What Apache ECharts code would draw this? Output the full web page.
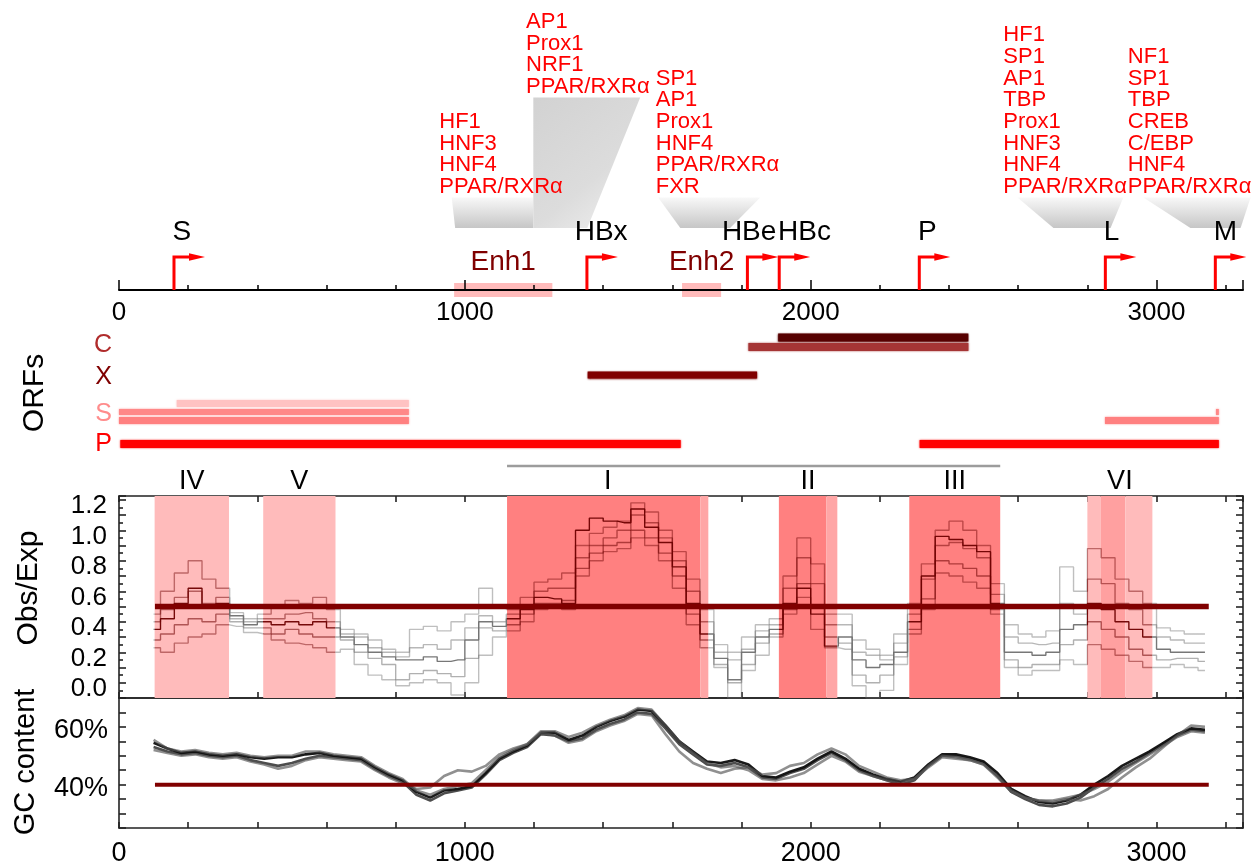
<!DOCTYPE html>
<html><head><meta charset="utf-8">
<script src="https://cdn.jsdelivr.net/npm/echarts@6/dist/echarts.min.js"></script>
<style>html,body{margin:0;padding:0;background:#fff}#c{width:1253px;height:863px}</style>
</head><body><div id="c"></div>
<script>
// ---------------- data ----------------
const positions = [100,140,180,220,260,300,340,380,420,460,
  500,540,580,620,660,700,740,780,820,860,
  900,940,980,1020,1060,1100,1140,1180,1220,1260,
  1300,1340,1380,1420,1460,1500,1540,1580,1620,1660,
  1700,1740,1780,1820,1860,1900,1940,1980,2020,2060,
  2100,2140,2180,2220,2260,2300,2340,2380,2420,2460,
  2500,2540,2580,2620,2660,2700,2740,2780,2820,2860,
  2900,2940,2980,3020,3060,3100,3140];

const obsTrace1 = [0.55,0.70,0.82,0.90,0.78,0.72,0.56,0.52,0.55,0.60,
  0.64,0.62,0.66,0.58,0.45,0.42,0.38,0.32,0.30,0.45,
  0.47,0.44,0.50,0.55,0.72,0.60,0.58,0.66,0.76,0.78,
  0.82,1.00,1.08,1.12,1.16,1.28,1.22,1.10,0.96,0.78,
  0.58,0.35,0.30,0.40,0.48,0.52,0.80,1.05,0.88,0.55,
  0.55,0.38,0.32,0.28,0.42,0.62,0.88,1.10,1.16,1.10,
  1.00,0.75,0.48,0.42,0.40,0.44,0.86,0.70,0.98,0.92,
  0.78,0.70,0.62,0.46,0.44,0.42,0.42];
const obsTrace2 = [0.50,0.58,0.66,0.70,0.62,0.66,0.52,0.50,0.52,0.52,
  0.55,0.56,0.52,0.50,0.42,0.40,0.33,0.30,0.27,0.33,
  0.35,0.32,0.38,0.46,0.54,0.50,0.55,0.60,0.70,0.72,
  0.72,0.92,1.00,1.05,1.10,1.20,1.15,1.05,0.90,0.70,
  0.50,0.30,0.25,0.32,0.44,0.48,0.72,0.92,0.75,0.48,
  0.48,0.30,0.28,0.25,0.36,0.55,0.78,1.00,1.02,0.98,
  0.92,0.68,0.40,0.36,0.35,0.36,0.62,0.55,0.78,0.75,
  0.62,0.58,0.48,0.40,0.38,0.36,0.36];
const obsTrace3 = [0.45,0.52,0.62,0.72,0.60,0.62,0.54,0.48,0.50,0.48,
  0.50,0.48,0.50,0.46,0.40,0.35,0.30,0.27,0.25,0.25,
  0.27,0.24,0.25,0.38,0.50,0.47,0.52,0.58,0.66,0.65,
  0.62,1.10,1.18,1.16,1.15,1.24,1.12,1.02,0.86,0.62,
  0.42,0.26,0.12,0.30,0.40,0.45,0.62,0.72,0.55,0.34,
  0.40,0.25,0.20,0.22,0.30,0.50,0.80,1.06,1.04,1.00,
  0.96,0.62,0.30,0.30,0.28,0.30,0.45,0.48,0.62,0.58,
  0.50,0.45,0.40,0.32,0.30,0.30,0.30];
const obsTrace4 = [0.38,0.42,0.48,0.52,0.50,0.55,0.50,0.46,0.46,0.42,
  0.45,0.42,0.40,0.40,0.38,0.30,0.26,0.22,0.12,0.16,
  0.18,0.16,0.14,0.26,0.46,0.44,0.48,0.55,0.62,0.62,
  0.64,0.85,0.95,1.00,1.02,1.10,1.05,0.95,0.80,0.55,
  0.38,0.22,0.10,0.22,0.36,0.42,0.58,0.75,0.60,0.40,
  0.36,0.15,0.10,0.15,0.27,0.45,0.65,0.90,0.88,0.85,
  0.80,0.58,0.25,0.20,0.22,0.22,0.35,0.38,0.50,0.45,
  0.40,0.32,0.28,0.25,0.26,0.26,0.24];
const obsTrace5 = [0.33,0.30,0.36,0.40,0.42,0.48,0.47,0.43,0.42,0.38,
  0.36,0.35,0.33,0.30,0.32,0.22,0.15,0.12,0.08,0.10,
  0.12,0.10,0.02,0.10,0.28,0.40,0.44,0.50,0.58,0.60,
  0.58,0.80,0.90,0.96,0.98,1.05,1.00,0.90,0.72,0.48,
  0.33,0.20,0.00,0.18,0.28,0.40,0.55,0.66,0.45,0.33,
  0.32,0.08,0.00,0.05,0.22,0.42,0.58,0.82,0.80,0.76,
  0.72,0.55,0.20,0.15,0.18,0.18,0.25,0.22,0.35,0.32,
  0.28,0.24,0.20,0.20,0.22,0.20,0.18];

const gcTrace1 = [54.5,52.5,51.0,51.5,50.5,50.0,50.5,49.5,49.0,49.5,
  49.5,50.5,51.0,50.0,49.5,49.0,46.0,43.5,41.5,37.5,
  35.5,38.0,38.5,39.5,44.0,49.0,51.5,53.5,58.0,58.0,
  55.5,57.0,60.0,62.0,63.5,66.0,65.5,60.5,55.0,51.5,
  48.0,47.5,48.5,47.0,43.0,42.5,44.5,46.0,49.0,51.5,
  49.0,45.5,43.5,42.0,41.0,42.5,47.0,50.5,50.5,49.5,
  48.0,44.0,38.5,36.0,34.0,33.5,34.5,36.5,40.0,43.0,
  46.5,49.0,51.5,54.5,57.5,59.5,59.0];
const gcTrace2 = [53.0,51.5,50.5,51.0,50.0,49.5,50.0,48.5,47.5,46.5,
  47.5,49.0,50.0,49.5,49.0,48.5,45.5,43.0,41.0,36.5,
  34.5,37.0,38.0,39.0,43.5,48.5,51.0,53.0,57.5,57.0,
  55.0,56.0,59.0,61.0,62.5,65.0,64.5,59.5,54.0,50.5,
  47.0,46.5,47.5,46.0,42.5,42.0,44.0,45.5,48.5,51.0,
  48.5,45.0,43.0,41.5,40.0,41.5,46.5,50.0,50.0,49.0,
  47.5,43.0,37.5,35.0,33.0,32.5,33.5,35.5,39.0,42.0,
  45.5,48.0,51.0,54.0,57.0,59.0,58.5];
const gcTrace3 = [52.0,51.0,50.0,50.5,49.5,49.0,49.5,48.0,47.0,45.5,
  46.5,48.5,49.5,49.0,48.5,48.0,45.0,42.5,40.5,38.5,
  39.0,43.0,45.0,44.5,46.5,50.5,52.5,54.0,58.0,57.0,
  54.5,55.5,58.5,60.5,62.0,64.5,64.0,57.5,51.5,47.5,
  45.5,44.0,45.5,46.0,43.5,44.0,46.5,47.5,50.5,52.5,
  50.5,46.5,44.5,42.5,41.5,42.0,46.0,49.5,49.0,48.5,
  47.0,42.5,37.5,35.5,34.5,34.5,35.5,36.5,38.5,41.0,
  44.5,47.5,50.5,53.5,56.5,58.5,58.0];
const gcTrace4 = [55.5,52.5,51.5,52.0,51.0,50.5,51.0,50.0,49.5,50.0,
  50.0,51.5,51.5,50.5,50.0,49.5,46.5,44.0,42.0,38.0,
  36.5,38.5,39.5,40.5,45.0,49.5,52.0,54.0,58.5,58.5,
  56.5,58.0,60.5,62.5,64.0,66.5,66.0,60.5,55.0,51.0,
  47.5,46.0,46.5,45.0,42.0,41.5,42.5,44.0,47.0,50.0,
  48.0,44.5,43.0,41.5,40.5,42.0,46.5,50.0,49.5,48.5,
  47.0,43.0,38.0,35.5,34.5,34.0,35.0,34.5,36.0,38.5,
  42.5,46.0,49.0,53.0,57.0,60.5,60.0];

const promoters = [
  {name:'S', pos:159, labelAt:182},
  {name:'HBx', pos:1353, labelAt:1394},
  {name:'HBe', pos:1817, labelAt:1822},
  {name:'HBc', pos:1909, labelAt:1982},
  {name:'P', pos:2314, labelAt:2337},
  {name:'L', pos:2852, labelAt:2870},
  {name:'M', pos:3170, labelAt:3199}
];
const enhancers = [
  {name:'Enh1', from:969, to:1253},
  {name:'Enh2', from:1628, to:1741}
];
const tfGroups = [
  {names:['HF1','HNF3','HNF4','PPAR/RXRα'], textAt:926, tier:'low', top:[962,1198], bottom:[972,1198]},
  {names:['AP1','Prox1','NRF1','PPAR/RXRα'], textAt:1177, tier:'high', top:[1198,1507], bottom:[1198,1354]},
  {names:['SP1','AP1','Prox1','HNF4','PPAR/RXRα','FXR'], textAt:1552, tier:'low', top:[1559,1854], bottom:[1623,1767]},
  {names:['HF1','SP1','AP1','TBP','Prox1','HNF3','HNF4','PPAR/RXRα'], textAt:2557, tier:'low', top:[2598,2904], bottom:[2702,2867]},
  {names:['NF1','SP1','TBP','CREB','C/EBP','HNF4','PPAR/RXRα'], textAt:2917, tier:'low', top:[2962,3272], bottom:[3098,3243]}
];
const orfRows = ['C','X','S','P'];
const orfs = [
  {lane:'core', from:1906, to:2456},
  {lane:'precore', from:1820, to:2456},
  {lane:'X', from:1355, to:1845},
  {lane:'Ssmall', from:167, to:838},
  {lane:'Smid', from:0, to:838},
  {lane:'Smid', from:3172, to:3180},
  {lane:'Slarge', from:0, to:838},
  {lane:'Slarge', from:2851, to:3180},
  {lane:'P', from:4, to:1624},
  {lane:'P', from:2315, to:3180}
];
const regions = [
  {name:'IV', from:103, to:318},
  {name:'V', from:417, to:626},
  {name:'I', from:1122, to:1704},
  {name:'II', from:1908, to:2077},
  {name:'III', from:2285, to:2548},
  {name:'VI', from:2800, to:2988}
];
const shading = [
  {from:103, to:318, tone:'light'},
  {from:417, to:626, tone:'light'},
  {from:1122, to:1681, tone:'dark'},
  {from:1681, to:1704, tone:'strip'},
  {from:1908, to:2045, tone:'dark'},
  {from:2045, to:2077, tone:'strip'},
  {from:2285, to:2548, tone:'dark'},
  {from:2800, to:2838, tone:'light'},
  {from:2838, to:2910, tone:'mid'},
  {from:2910, to:2988, tone:'light'}
];
const bracket = [{from:1122, to:2548}];
const obsThreshold = 0.6;
const gcThreshold = 40;
const windowStart = 104, windowEnd = 3151;
const xTickLabels = ['0','1000','2000','3000'];
const obsTickLabels = ['0.0','0.2','0.4','0.6','0.8','1.0','1.2'];
const gcTickLabels = ['40%','60%'];

// ---------------- styles / layout ----------------
const FONT = '"Liberation Sans", Arial, Helvetica, sans-serif';
const AXIS_MAX = 3250, OBS_MAX = 1.325;
const GL = 119, GW = 1124;
const frame = {color:'#222', width:1.6};
const TF_TIER = {low:103, high:203};
const TF_LINE = 21.7;
const FUNNEL_BOTTOM = 62;
const FUNNEL_FILL = {
  low: {type:'linear',x:0,y:0,x2:0,y2:1,colorStops:[{offset:0,color:'#f8f8f8'},{offset:1,color:'#c6c6c6'}]},
  high:{type:'linear',x:0,y:0,x2:1,y2:1,colorStops:[{offset:0,color:'#d2d2d2'},{offset:0.6,color:'#dcdcdc'},{offset:1,color:'#f2f2f2'}]}
};
const ORF_LANES = {
  core:{dy:19.5,h:8,color:'#560000'},
  precore:{dy:29,h:8,color:'#A53535'},
  X:{dy:57,h:7,color:'#800000'},
  Ssmall:{dy:85.5,h:7,color:'#FFC2C2'},
  Smid:{dy:94,h:6,color:'#FF8888'},
  Slarge:{dy:102.5,h:7,color:'#FF8080'},
  P:{dy:126,h:8,color:'#FF0000'}
};
const ORF_ROW_STYLE = {C:{dy:27,color:'#B02C2C'}, X:{dy:59,color:'#800000'}, S:{dy:96,color:'#FF8C8C'}, P:{dy:126,color:'#FF0000'}};
const TONES = {light:'#FFBBBB', strip:'#FFA6A6', dark:'#FF8080', mid:'#FFA0A0'};

function T(text, x, y, size, color, align, valign){
  return {type:'text', style:{text:text, x:x, y:y, fill:color, fontSize:size, fontFamily:FONT,
    align:align||'center', verticalAlign:valign||'middle'}};
}
function fmtFrom(list, f){ return function(v){ const s=f(v); return list.indexOf(s)>=0 ? s : ''; }; }
const xFmt = fmtFrom(xTickLabels, v => String(Math.round(v)));
const obsFmt = fmtFrom(obsTickLabels, v => (Math.round(v*10)/10).toFixed(1));
const gcFmt = fmtFrom(gcTickLabels, v => Math.round(v)+'%');

const xBase = {type:'value', min:0, max:AXIS_MAX, splitLine:{show:false}};
const frameX = (grid, pos, labels) => Object.assign({}, xBase, {
  gridIndex:grid, position:pos, interval:200,
  axisLine:{show:true,onZero:false,lineStyle:frame},
  axisTick:{show:true,inside:true,length:6,lineStyle:frame},
  axisLabel: labels ? {show:true, formatter:xFmt, fontSize:27, color:'#000', margin:12, fontFamily:FONT} : {show:false}
});

// ---------------- series ----------------
const series = [];
// funnels
series.push({type:'custom', xAxisIndex:0, yAxisIndex:0, clip:false, silent:true, z:2,
  data: tfGroups.map(g => [g.top[0], g.top[1], g.bottom[0], g.bottom[1]]),
  renderItem: function(params, api){
    const g = tfGroups[params.dataIndex];
    const base = api.coord([0,0])[1];
    const px = v => api.coord([v,0])[0];
    const topY = base - TF_TIER[g.tier] + 10.5, botY = base - FUNNEL_BOTTOM;
    return {type:'polygon', shape:{points:[[px(api.value(0)),topY],[px(api.value(1)),topY],[px(api.value(3)),botY],[px(api.value(2)),botY]]},
      style:{fill:FUNNEL_FILL[g.tier]}};
  }});
// TF labels
series.push({type:'custom', xAxisIndex:0, yAxisIndex:0, clip:false, silent:true, z:4,
  data: tfGroups.map(g => [g.textAt, 0]),
  renderItem: function(params, api){
    const g = tfGroups[params.dataIndex];
    const base = api.coord([0,0])[1];
    const x = api.coord([api.value(0),0])[0];
    const lastH = TF_TIER[g.tier];
    const n = g.names.length;
    return {type:'group', children: g.names.map((nm,k) => T(nm, x, base - lastH - (n-1-k)*TF_LINE, 22, '#FF0000', 'left'))};
  }});
// enhancers
series.push({type:'custom', xAxisIndex:0, yAxisIndex:0, clip:false, silent:true, z:-1,
  data: enhancers.map(e => [e.from, e.to]),
  renderItem: function(params, api){
    const e = enhancers[params.dataIndex];
    const base = api.coord([0,0])[1];
    const x0 = api.coord([api.value(0),0])[0], x1 = api.coord([api.value(1),0])[0];
    return {type:'group', children:[
      {type:'rect', shape:{x:x0, y:base-7, width:x1-x0, height:14}, style:{fill:'rgba(255,120,120,0.5)'}},
      T(e.name, (x0+x1)/2, base-28, 28, '#800000')
    ]};
  }});
// promoters
series.push({type:'custom', xAxisIndex:0, yAxisIndex:0, clip:false, silent:true, z:4,
  data: promoters.map(p => [p.pos, p.labelAt]),
  renderItem: function(params, api){
    const p = promoters[params.dataIndex];
    const base = api.coord([0,0])[1];
    const x = api.coord([api.value(0),0])[0];
    const lx = api.coord([api.value(1),0])[0];
    const h = 33;
    return {type:'group', children:[
      {type:'polyline', shape:{points:[[x,base],[x,base-h],[x+18,base-h]]}, style:{stroke:'#FF0000', lineWidth:3, fill:null}},
      {type:'polygon', shape:{points:[[x+15,base-h-3.8],[x+31,base-h],[x+15,base-h+3.8]]}, style:{fill:'#FF0000'}},
      T(p.name, lx, base-58, 28, '#000')
    ]};
  }});
// ORF bars
series.push({type:'custom', xAxisIndex:2, yAxisIndex:1, clip:false, silent:true,
  data: orfs.map(o => [o.from, o.to]),
  renderItem: function(params, api){
    const lane = ORF_LANES[orfs[params.dataIndex].lane];
    const top = api.coord([0,1])[1];
    const x0 = api.coord([api.value(0),0])[0], x1 = api.coord([api.value(1),0])[0];
    return {type:'rect', shape:{x:x0, y:top+lane.dy-lane.h/2, width:Math.max(x1-x0,1.5), height:lane.h},
      style:{fill:lane.color, shadowBlur:2, shadowColor:lane.color}};
  }});
// ORF row labels
series.push({type:'custom', xAxisIndex:2, yAxisIndex:1, clip:false, silent:true,
  data: orfRows.map(r => [0, 1]),
  renderItem: function(params, api){
    const name = orfRows[params.dataIndex], st = ORF_ROW_STYLE[name];
    const pt = api.coord([api.value(0), api.value(1)]);
    return T(name, pt[0]-7, pt[1]+st.dy, 25, st.color, 'right');
  }});
// bracket over I-III
series.push({type:'custom', xAxisIndex:2, yAxisIndex:1, clip:false, silent:true,
  data: bracket.map(b => [b.from, b.to]),
  renderItem: function(params, api){
    const top = api.coord([0,1])[1];
    const x0 = api.coord([api.value(0),0])[0], x1 = api.coord([api.value(1),0])[0];
    return {type:'line', shape:{x1:x0, y1:top+148, x2:x1, y2:top+148}, style:{stroke:'#9c9c9c', lineWidth:2.5}};
  }});
// region shading
series.push({type:'custom', xAxisIndex:3, yAxisIndex:2, silent:true, z:1,
  data: shading.map(s => [s.from, s.to]),
  renderItem: function(params, api){
    const cs = params.coordSys;
    const x0 = api.coord([api.value(0),0])[0], x1 = api.coord([api.value(1),0])[0];
    return {type:'rect', shape:{x:x0, y:cs.y, width:x1-x0, height:cs.height}, style:{fill:TONES[shading[params.dataIndex].tone]}};
  }});
// region labels
series.push({type:'custom', xAxisIndex:3, yAxisIndex:2, clip:false, silent:true,
  data: regions.map(r => [(r.from+r.to)/2, OBS_MAX]),
  renderItem: function(params, api){
    const pt = api.coord([api.value(0), api.value(1)]);
    return T(regions[params.dataIndex].name, pt[0], pt[1]-14, 27, '#000');
  }});
// Obs/Exp traces
const obsTraces = [obsTrace1, obsTrace2, obsTrace3, obsTrace4, obsTrace5];
const obsOpacity = [0.45, 0.5, 0.95, 0.55, 0.45];
const obsIdx = [];
obsTraces.forEach((tr, k) => {
  obsIdx.push(series.length);
  series.push({type:'line', xAxisIndex:3, yAxisIndex:2, symbol:'none', silent:true, z:3, step:'middle',
    data: positions.map((x,i) => [x, tr[i]]),
    lineStyle:{width:1.4, opacity:obsOpacity[k]}});
});
// Obs/Exp threshold
series.push({type:'line', xAxisIndex:3, yAxisIndex:2, symbol:'none', silent:true, z:5,
  data:[[windowStart, obsThreshold],[windowEnd, obsThreshold]],
  lineStyle:{color:'#800000', width:5.5}});
// GC traces
const gcTraces = [gcTrace1, gcTrace2, gcTrace3, gcTrace4];
const gcColor = ['#000','#111','#555','#555'];
const gcOpacity = [0.9, 0.75, 0.65, 0.65];
gcTraces.forEach((tr, k) => {
  series.push({type:'line', xAxisIndex:5, yAxisIndex:4, symbol:'none', silent:true, z:3,
    data: positions.map((x,i) => [x, tr[i]]),
    lineStyle:{width:2.6, color:gcColor[k], opacity:gcOpacity[k]}});
});
series.push({type:'line', xAxisIndex:5, yAxisIndex:4, symbol:'none', silent:true, z:5,
  data:[[windowStart, gcThreshold],[windowEnd, gcThreshold]],
  lineStyle:{color:'#800000', width:4}});

const option = {
  animation:false,
  backgroundColor:'#fff',
  textStyle:{fontFamily:FONT},
  grid:[
    {left:GL, top:0, width:GW, height:290, outerBoundsMode:'none'},
    {left:GL, top:318, width:GW, height:152, outerBoundsMode:'none'},
    {left:GL, top:496, width:GW, height:202, outerBoundsMode:'none'},
    {left:GL, top:698, width:GW, height:130, outerBoundsMode:'none'}
  ],
  xAxis:[
    Object.assign({}, xBase, {gridIndex:0, position:'bottom', interval:1000,
      axisLine:{show:true,onZero:false,lineStyle:{color:'#000',width:2}},
      axisTick:{show:true,inside:true,length:10,lineStyle:{color:'#000',width:1.5}},
      axisLabel:{show:true,formatter:xFmt,fontSize:26,color:'#000',margin:10,fontFamily:FONT}}),
    Object.assign({}, xBase, {gridIndex:0, position:'bottom', interval:200,
      axisLine:{show:false,onZero:false},
      axisTick:{show:true,inside:true,length:5,lineStyle:{color:'#000',width:1.5}},
      axisLabel:{show:false}}),
    Object.assign({}, xBase, {gridIndex:1, show:false}),
    frameX(2,'bottom',false),
    frameX(2,'top',false),
    frameX(3,'bottom',true),
    Object.assign({}, xBase, {gridIndex:3, position:'top', axisLine:{show:true,onZero:false,lineStyle:frame}, axisTick:{show:false}, axisLabel:{show:false}})
  ],
  yAxis:[
    {gridIndex:0, type:'value', min:0, max:1, show:false},
    {gridIndex:1, type:'value', min:0, max:1, show:false},
    {gridIndex:2, type:'value', min:0, max:OBS_MAX, interval:0.1, position:'left',
      axisLine:{show:true,onZero:false,lineStyle:frame},
      axisTick:{show:true,inside:true,length:7,lineStyle:frame},
      minorTick:{show:true,splitNumber:2,length:4,lineStyle:frame},
      axisLabel:{show:true,formatter:obsFmt,fontSize:26,color:'#000',margin:12,verticalAlign:'bottom',lineHeight:18,fontFamily:FONT},
      splitLine:{show:false}, minorSplitLine:{show:false}},
    {gridIndex:2, type:'value', min:0, max:OBS_MAX, interval:0.1, position:'right',
      axisLine:{show:true,onZero:false,lineStyle:frame},
      axisTick:{show:true,inside:true,length:7,lineStyle:frame},
      minorTick:{show:true,splitNumber:2,length:4,lineStyle:frame},
      axisLabel:{show:false}, splitLine:{show:false}, minorSplitLine:{show:false}},
    {gridIndex:3, type:'value', min:25, max:70, interval:5, position:'left',
      axisLine:{show:true,onZero:false,lineStyle:frame},
      axisTick:{show:true,inside:true,length:7,lineStyle:frame},
      axisLabel:{show:true,formatter:gcFmt,fontSize:27,color:'#000',margin:11,verticalAlign:'top',lineHeight:8,fontFamily:FONT},
      splitLine:{show:false}},
    {gridIndex:3, type:'value', min:25, max:70, interval:5, position:'right',
      axisLine:{show:true,onZero:false,lineStyle:frame},
      axisTick:{show:true,inside:true,length:7,lineStyle:frame},
      axisLabel:{show:false}, splitLine:{show:false}}
  ],
  visualMap:[{type:'piecewise', show:false, dimension:0, seriesIndex:obsIdx,
    pieces: regions.map(r => ({gte:r.from, lte:r.to, color:'#6E0000'})),
    outOfRange:{color:'#707070'}}],
  graphic:[
    {type:'text', x:35, y:393, rotation:Math.PI/2, style:{text:'ORFs', fontSize:30, fontFamily:FONT, fill:'#000', align:'center', verticalAlign:'middle'}},
    {type:'text', x:29, y:588, rotation:Math.PI/2, style:{text:'Obs/Exp', fontSize:30, fontFamily:FONT, fill:'#000', align:'center', verticalAlign:'middle'}},
    {type:'text', x:26, y:762, rotation:Math.PI/2, style:{text:'GC content', fontSize:29, fontFamily:FONT, fill:'#000', align:'center', verticalAlign:'middle'}}
  ],
  series: series
};
const chart = echarts.init(document.getElementById('c'), null, {renderer:'canvas'});
chart.setOption(option);
</script></body></html>
